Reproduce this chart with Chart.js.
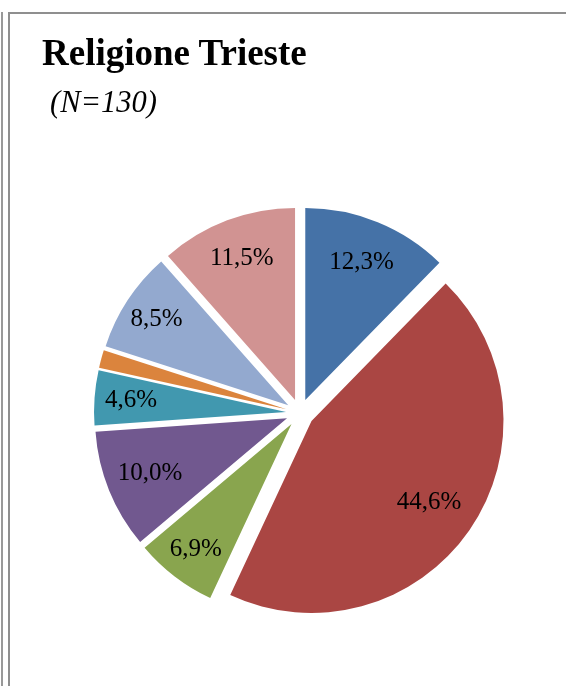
<!DOCTYPE html>
<html>
<head>
<meta charset="utf-8">
<script src="https://cdn.jsdelivr.net/npm/chart.js@4/dist/chart.umd.min.js"></script>
<style>
    body { margin: 0; background: #fff; width: 566px; height: 686px; overflow: hidden; position: relative;
           font-family: "Liberation Serif", "Times New Roman", serif; }
    #outer { position: absolute; left: 1px; top: 12px; width: 2px; height: 674px; background: #999; }
    #frame { position: absolute; left: 8px; top: 12px; right: 0; bottom: 0;
             border-left: 2px solid #8f8f8f; border-top: 2px solid #8f8f8f; }
    #title { position: absolute; left: 42px; top: 34px; font-size: 37px; font-weight: bold; line-height: 1; white-space: nowrap; }
    #subtitle { position: absolute; left: 50px; top: 87px; font-size: 30.5px; font-style: italic; line-height: 1; white-space: nowrap; }
    canvas { position: absolute; left: 0; top: 0; }
</style>
</head>
<body>
<div id="outer"></div>
<div id="frame"></div>
<canvas id="religionChart" width="566" height="686"></canvas>
<div id="title">Religione Trieste</div>
<div id="subtitle">(N=130)</div>
<script>
// slices in drawing order, clockwise from 12 o'clock
const categories = ["Cat. 1", "Cat. 2", "Cat. 3", "Cat. 4", "Cat. 5", "Cat. 6", "Cat. 7", "Cat. 8"];
const shares = [12.3, 44.6, 6.9, 10.0, 4.6, 1.5, 8.5, 11.5];
const sliceColors = ["#4572A7", "#AA4643", "#89A54E", "#71588F", "#4198AF", "#DB843D", "#93A9CF", "#D19392"];
// how far out (fraction of radius) each label sits
const labelDepth = [0.775, 0.745, 0.82, 0.77, 0.81, 0, 0.82, 0.785];

const EXPLODE = 14;

// push every slice out along its middle angle, like an exploded Excel pie
const explodePlugin = {
    id: "explode",
    afterDatasetsUpdate(chart) {
        chart.getDatasetMeta(0).data.forEach(arc => {
            const mid = (arc.startAngle + arc.endAngle) / 2;
            arc.x += Math.cos(mid) * EXPLODE;
            arc.y += Math.sin(mid) * EXPLODE;
        });
    }
};

const labelPlugin = {
    id: "sliceLabels",
    afterDatasetsDraw(chart) {
        const ctx = chart.ctx;
        ctx.save();
        ctx.font = "25px 'Liberation Serif', 'Times New Roman', serif";
        ctx.fillStyle = "#000";
        ctx.textAlign = "center";
        ctx.textBaseline = "middle";
        chart.getDatasetMeta(0).data.forEach((arc, i) => {
            if (shares[i] < 2) return; // tiny slice has no label
            const mid = (arc.startAngle + arc.endAngle) / 2;
            const r = arc.outerRadius * labelDepth[i];
            ctx.fillText(shares[i].toFixed(1).replace(".", ",") + "%",
                arc.x + Math.cos(mid) * r, arc.y + Math.sin(mid) * r);
        });
        ctx.restore();
    }
};

new Chart(document.getElementById("religionChart").getContext("2d"), {
    type: "pie",
    data: {
        labels: categories,
        datasets: [{
            data: shares,
            backgroundColor: sliceColors,
            borderWidth: 0,
            radius: 192
        }]
    },
    options: {
        responsive: false,
        animation: false,
        events: [],
        layout: { padding: { left: 34, right: 0, top: 140, bottom: 0 } },
        plugins: { legend: { display: false }, tooltip: { enabled: false } }
    },
    plugins: [explodePlugin, labelPlugin]
});
</script>
</body>
</html>
